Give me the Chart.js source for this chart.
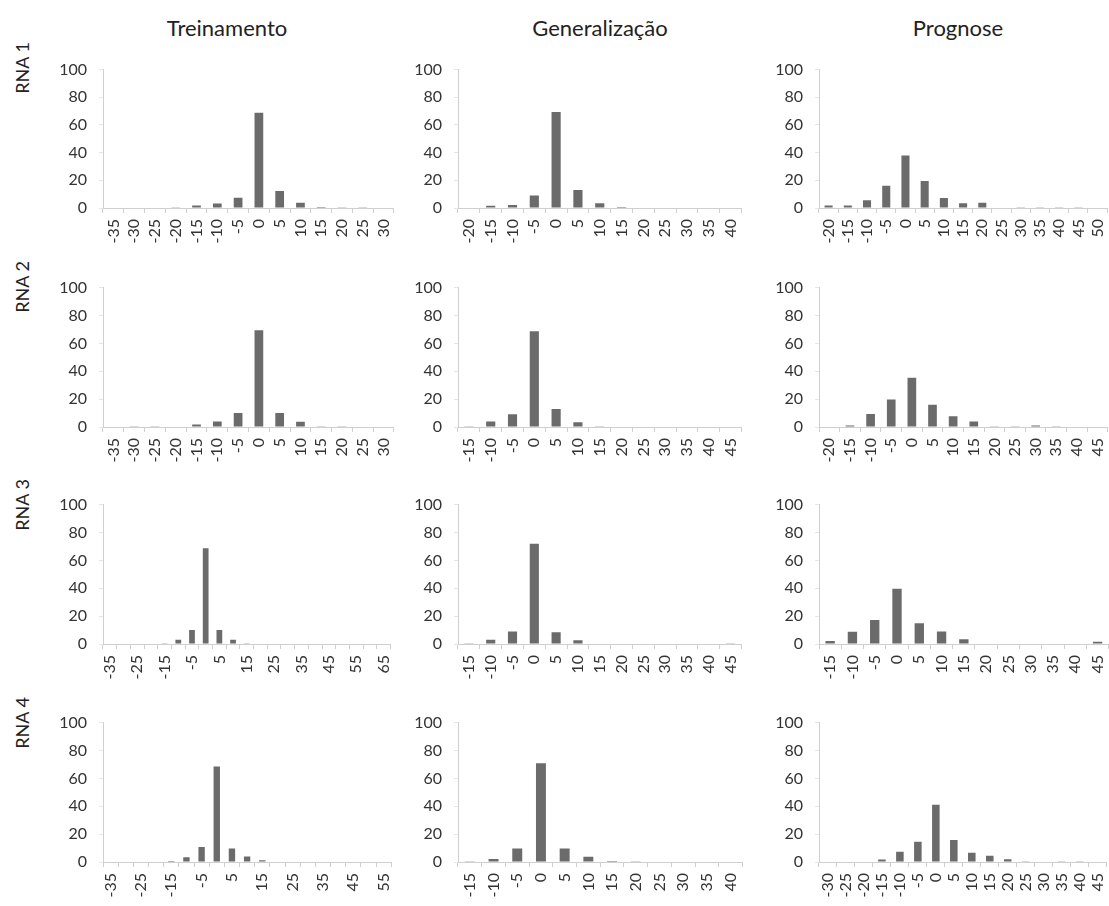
<!DOCTYPE html>
<html><head><meta charset="utf-8">
<script src="https://cdn.jsdelivr.net/npm/chart.js@4"></script>
<style>
html,body{margin:0;padding:0;background:#fff;width:1109px;height:906px;overflow:hidden;position:relative;font-family:Lato,"Open Sans",sans-serif;color:#222}
.panel{position:absolute}
.title{position:absolute;font-size:22px;transform:translate(-50%,-50%);white-space:nowrap}
.rowlab{position:absolute;font-size:18px;transform:translate(-50%,-50%) rotate(-90deg);white-space:nowrap}
</style></head><body>
<div class="title" style="left:227px;top:27px">Treinamento</div>
<div class="title" style="left:600px;top:27px">Generalização</div>
<div class="title" style="left:958px;top:27px">Prognose</div>
<div class="rowlab" style="left:22px;top:68px">RNA 1</div>
<div class="rowlab" style="left:22px;top:287px">RNA 2</div>
<div class="rowlab" style="left:22px;top:505px">RNA 3</div>
<div class="rowlab" style="left:22px;top:723px">RNA 4</div>
<script>
// ---- categories (error classes, %) and frequencies (%) ----
const rna1TreinCats = ['-35','-30','-25','-20','-15','-10','-5','0','5','10','15','20','25','30'];
const rna1TreinVals = [0.3,0.3,0.3,0.1,1.8,3.3,7.4,68.9,12.3,3.8,0.7,0.1,0.1,0];
const rna1GenCats = ['-20','-15','-10','-5','0','5','10','15','20','25','30','35','40'];
const rna1GenVals = [0.3,1.6,2.2,9,69.4,13,3.4,0.7,0,0,0,0,0];
const rna1ProgCats = ['-20','-15','-10','-5','0','5','10','15','20','25','30','35','40','45','50'];
const rna1ProgVals = [1.8,1.8,5.6,16,38,19.5,7.2,3.4,3.8,0.3,0.2,0.2,0.2,0.5,0];

const rna2TreinCats = ['-35','-30','-25','-20','-15','-10','-5','0','5','10','15','20','25','30'];
const rna2TreinVals = [0.3,0.1,0.2,0,1.8,4,10,69.4,10,3.8,0.5,0.1,0,0];
const rna2GenCats = ['-15','-10','-5','0','5','10','15','20','25','30','35','40','45'];
const rna2GenVals = [0.5,4,9.2,68.7,13,3.4,0.1,0,0,0,0,0,0];
const rna2ProgCats = ['-20','-15','-10','-5','0','5','10','15','20','25','30','35','40','45'];
const rna2ProgVals = [0,1.1,9.4,19.7,35.3,16,7.8,4,0.5,0.5,1,0.5,0,0];

const rna3TreinCats = ['-35','-30','-25','-20','-15','-10','-5','0','5','10','15','20','25','30','35','40','45','50','55','60','65'];
const rna3TreinVals = [0,0,0,0,0.5,3,10,68.7,10,3,0.5,0,0,0,0,0,0,0,0,0,0];
const rna3GenCats = ['-15','-10','-5','0','5','10','15','20','25','30','35','40','45'];
const rna3GenVals = [0.5,3.1,9,72,8.5,2.7,0,0,0,0,0,0,0.5];
const rna3ProgCats = ['-15','-10','-5','0','5','10','15','20','25','30','35','40','45'];
const rna3ProgVals = [2.2,8.7,17.2,39.6,14.8,9,3.4,0,0,0,0,0.3,1.6];

const rna4TreinCats = ['-35','-30','-25','-20','-15','-10','-5','0','5','10','15','20','25','30','35','40','45','50','55'];
const rna4TreinVals = [0,0,0,0,0.7,3.4,10.8,68.5,9.7,4,1.3,0,0,0,0,0,0,0,0];
const rna4GenCats = ['-15','-10','-5','0','5','10','15','20','25','30','35','40'];
const rna4GenVals = [0.5,2.2,9.7,70.8,9.7,3.8,0.7,0.2,0,0,0,0.3];
const rna4ProgCats = ['-30','-25','-20','-15','-10','-5','0','5','10','15','20','25','30','35','40','45'];
const rna4ProgVals = [0,0,0,1.8,7.4,14.6,41,15.7,6.7,4.5,2,0.5,0,0.5,0.5,0];

const yTicks = [0,20,40,60,80,100];

// ---- panel grid: [row][col] -> {cats, vals, labelEvery} ----
const panels = [
  [[rna1TreinCats,rna1TreinVals,1],[rna1GenCats,rna1GenVals,1],[rna1ProgCats,rna1ProgVals,1]],
  [[rna2TreinCats,rna2TreinVals,1],[rna2GenCats,rna2GenVals,1],[rna2ProgCats,rna2ProgVals,1]],
  [[rna3TreinCats,rna3TreinVals,2],[rna3GenCats,rna3GenVals,1],[rna3ProgCats,rna3ProgVals,1]],
  [[rna4TreinCats,rna4TreinVals,2],[rna4GenCats,rna4GenVals,1],[rna4ProgCats,rna4ProgVals,1]]
];
const colPos = [{x:103,w:300},{x:458,w:292},{x:819,w:298}];
const rowPos = [{top:60,bot:208},{top:278,bot:427},{top:495,bot:644},{top:713,bot:862}];

const YW = 60, XH = 45, PT = 12, PR = 6;
const FONT = {family:'Lato, "Open Sans", sans-serif', size:16};
const AXIS = '#cfcfcf', TXT = '#333333', BAR = '#6b6b6b';

panels.forEach((row, r) => row.forEach((p, c) => {
  const [cats, vals, every] = p;
  const cp = colPos[c], rp = rowPos[r];
  const cv = document.createElement('canvas');
  const W = YW + cp.w + PR, H = PT + (rp.bot - rp.top) + XH;
  const d = document.createElement('div');
  d.className = 'panel';
  d.style.left = (cp.x - YW) + 'px';
  d.style.top = (rp.top - PT) + 'px';
  d.style.width = W + 'px';
  d.style.height = H + 'px';
  d.appendChild(cv);
  document.body.appendChild(d);
  new Chart(cv, {
    type: 'bar',
    data: { labels: cats, datasets: [{ data: vals, backgroundColor: BAR, barPercentage: 0.42, categoryPercentage: 1 }] },
    options: {
      responsive: true, maintainAspectRatio: false, animation: false,
      devicePixelRatio: 1,
      layout: { padding: { top: PT, right: PR, left: 0, bottom: 0 } },
      plugins: { legend: { display: false }, tooltip: { enabled: false } },
      scales: {
        x: {
          offset: true,
          grid: { offset: true, drawOnChartArea: false, drawTicks: true, tickLength: 5, color: AXIS },
          border: { display: true, color: AXIS, width: 1 },
          ticks: { autoSkip: false, minRotation: 90, maxRotation: 90, padding: 6, color: TXT, font: FONT,
                   callback: (v, i) => (i % every === 0 ? cats[i] : '') },
          afterFit: s => { s.height = XH; }
        },
        y: {
          min: 0, max: 100,
          afterBuildTicks: s => { s.ticks = yTicks.map(v => ({ value: v })); },
          grid: { drawOnChartArea: false, drawTicks: true, tickLength: 4, color: '#e6e6e6' },
          border: { display: true, color: AXIS, width: 1 },
          ticks: { padding: 12, color: TXT, font: FONT },
          afterFit: s => { s.width = YW; }
        }
      }
    }
  });
}));
</script>
</body></html>
